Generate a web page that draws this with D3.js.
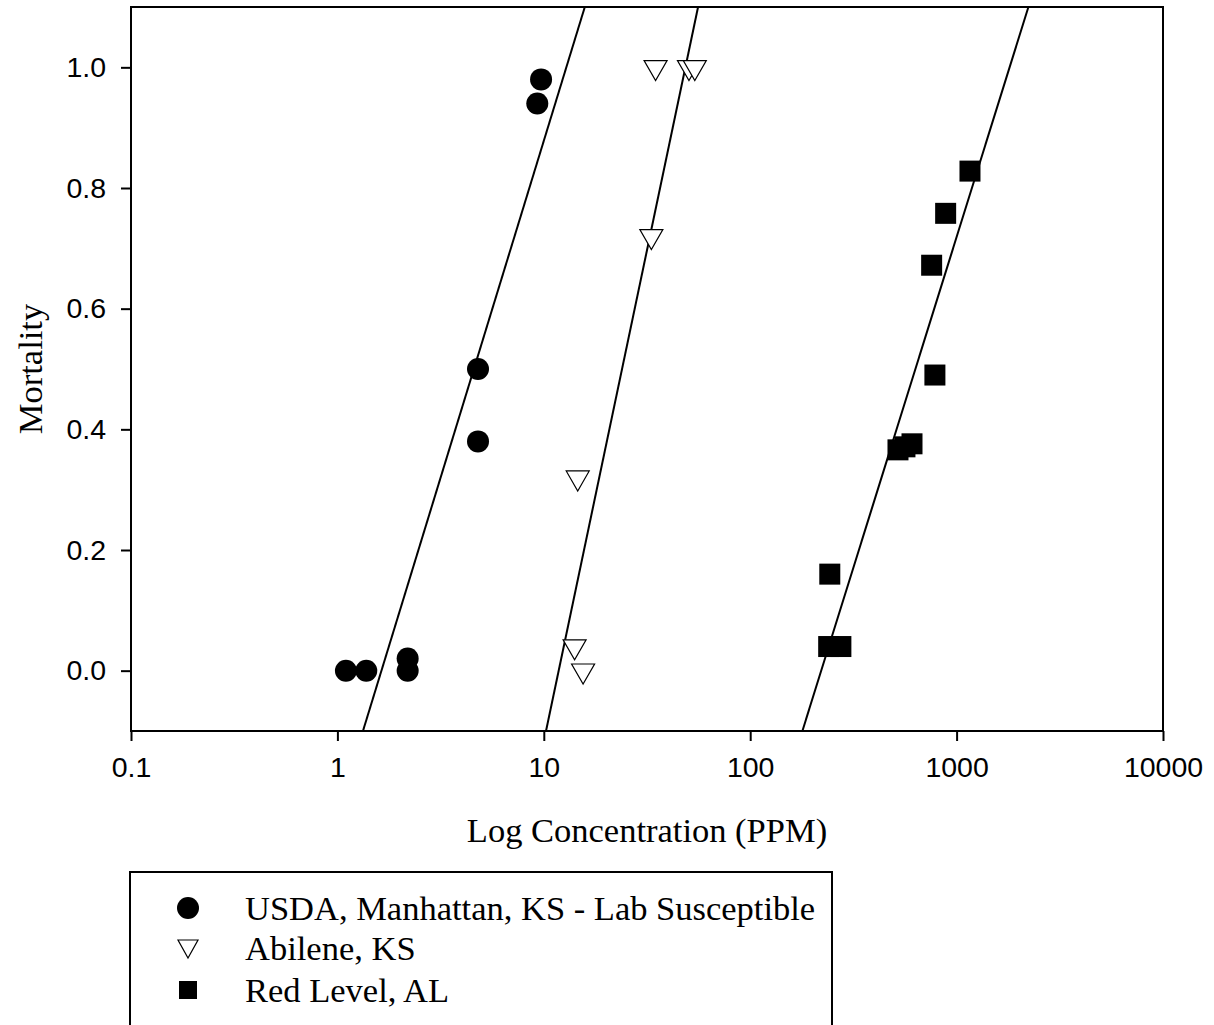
<!DOCTYPE html>
<html>
<head>
<meta charset="utf-8">
<script src="https://cdn.jsdelivr.net/npm/d3@7"></script>
<style>
body { margin: 0; background: #fff; }
</style>
</head>
<body>
<svg id="screen" width="1214" height="1025"></svg>
<script>
// USDA, Manhattan, KS - Lab Susceptible
var usdaX = [1.1, 1.38, 2.19, 2.19, 4.8, 4.8, 9.3, 9.7];
var usdaY = [0, 0, 0, 0.02, 0.38, 0.50, 0.94, 0.98];
// Abilene, KS
var abileneX = [15.5, 14.1, 14.6, 33.2, 34.8, 50.5, 53.9];
var abileneY = [0, 0.04, 0.32, 0.72, 1.0, 1.0, 1.0];
// Red Level, AL
var redX = [240, 275, 243, 520, 562, 608, 785, 757, 885, 1161];
var redY = [0.04, 0.04, 0.16, 0.366, 0.371, 0.376, 0.49, 0.672, 0.758, 0.828];

// fitted lines, concentration at mortality -0.1 and 1.1
var fitY = [-0.1, 1.1];
var usdaFit = [1.33, 15.8];
var abileneFit = [10.25, 55.9];
var redFit = [179, 2228];

var xTicks = [0.1, 1, 10, 100, 1000, 10000];
var xTickLabels = ["0.1", "1", "10", "100", "1000", "10000"];
var yTicks = [0, 0.2, 0.4, 0.6, 0.8, 1.0];
var legendNames = ["USDA, Manhattan, KS - Lab Susceptible", "Abilene, KS", "Red Level, AL"];

var svg = d3.select("#screen");
var plotLeft = 131, plotRight = 1163, plotTop = 7, plotBottom = 731;

var x = d3.scaleLog().domain([0.1, 10000]).range([plotLeft, plotRight]);
var y = d3.scaleLinear().domain([-0.1, 1.1]).range([plotBottom, plotTop]);

// axes
var xAxis = d3.axisBottom(x).tickValues(xTicks)
    .tickFormat(function(d, i) { return xTickLabels[i]; })
    .tickSize(10).tickPadding(16).tickSizeOuter(0);
var yAxis = d3.axisLeft(y).tickValues(yTicks)
    .tickFormat(d3.format(".1f")).tickSize(10).tickPadding(15).tickSizeOuter(0);

var gx = svg.append("g").attr("transform", "translate(0," + plotBottom + ")").call(xAxis);
var gy = svg.append("g").attr("transform", "translate(" + plotLeft + ",0)").call(yAxis);
[gx, gy].forEach(function(g) {
    g.select(".domain").remove();
    g.selectAll("line").attr("stroke", "#000").attr("stroke-width", 2);
    g.selectAll("text").attr("font-family", "Liberation Sans, Arial, sans-serif")
        .attr("font-size", 28.5).attr("fill", "#000");
});

// frame
svg.append("rect").attr("x", plotLeft).attr("y", plotTop)
    .attr("width", plotRight - plotLeft).attr("height", plotBottom - plotTop)
    .attr("fill", "none").attr("stroke", "#000").attr("stroke-width", 2);

// fit lines
[usdaFit, abileneFit, redFit].forEach(function(f) {
    svg.append("line")
        .attr("x1", x(f[0])).attr("y1", y(fitY[0]))
        .attr("x2", x(f[1])).attr("y2", y(fitY[1]))
        .attr("stroke", "#000").attr("stroke-width", 2);
});

function tri(w, h) {
    return "M" + (-w / 2) + "," + (-h / 3) + "L" + (w / 2) + "," + (-h / 3) + "L0," + (2 * h / 3) + "Z";
}

// points
svg.selectAll("circle.usda").data(usdaX).enter().append("circle")
    .attr("cx", function(d) { return x(d); })
    .attr("cy", function(d, i) { return y(usdaY[i]); })
    .attr("r", 11).attr("fill", "#000");

svg.selectAll("path.abilene").data(abileneX).enter().append("path")
    .attr("d", tri(23, 20))
    .attr("transform", function(d, i) { return "translate(" + x(d) + "," + y(abileneY[i]) + ")"; })
    .attr("fill", "#fff").attr("stroke", "#000").attr("stroke-width", 1.2);

svg.selectAll("rect.red").data(redX).enter().append("rect")
    .attr("x", function(d) { return x(d) - 10.5; })
    .attr("y", function(d, i) { return y(redY[i]) - 10.5; })
    .attr("width", 21).attr("height", 21).attr("fill", "#000");

// axis titles
svg.append("text").attr("x", 647).attr("y", 842).attr("text-anchor", "middle")
    .attr("font-family", "Liberation Serif, Times New Roman, serif").attr("font-size", 34.5)
    .text("Log Concentration (PPM)");
svg.append("text").attr("transform", "translate(42,369) rotate(-90)").attr("text-anchor", "middle")
    .attr("font-family", "Liberation Serif, Times New Roman, serif").attr("font-size", 34.5)
    .text("Mortality");

// legend
svg.append("rect").attr("x", 130).attr("y", 872).attr("width", 702).attr("height", 170)
    .attr("fill", "none").attr("stroke", "#000").attr("stroke-width", 2);
var legY = [908, 948, 990];
svg.append("circle").attr("cx", 188).attr("cy", legY[0]).attr("r", 11).attr("fill", "#000");
svg.append("path").attr("d", tri(20, 18)).attr("transform", "translate(188," + (legY[1] - 2) + ")")
    .attr("fill", "#fff").attr("stroke", "#000").attr("stroke-width", 1.2);
svg.append("rect").attr("x", 179).attr("y", legY[2] - 9).attr("width", 18).attr("height", 18).attr("fill", "#000");
svg.selectAll("text.leg").data(legendNames).enter().append("text")
    .attr("x", 245).attr("y", function(d, i) { return legY[i] + 12; })
    .attr("font-family", "Liberation Serif, Times New Roman, serif").attr("font-size", 34.5)
    .text(function(d) { return d; });
</script>
</body>
</html>
